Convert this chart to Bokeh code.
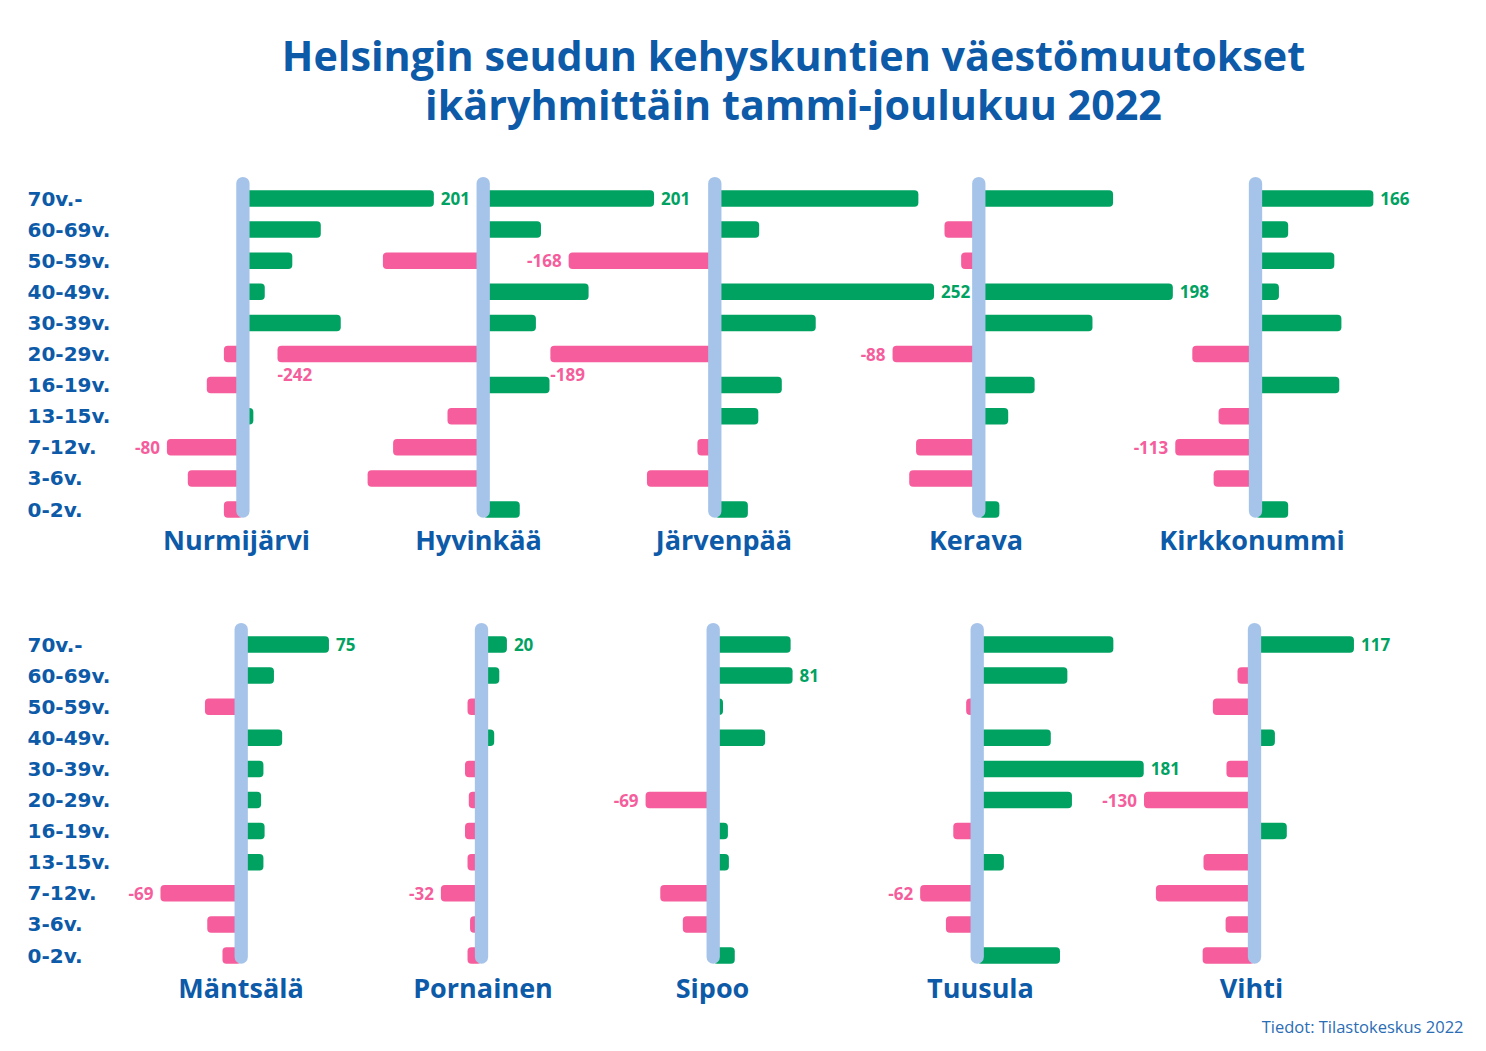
from bokeh.plotting import figure
from bokeh.models import Range1d, ColumnDataSource
from bokeh.embed import file_html
from bokeh.resources import INLINE
from bokeh.core.properties import value

# ---------------- data ----------------
TITLE = ["Helsingin seudun kehyskuntien väestömuutokset",
         "ikäryhmittäin tammi-joulukuu 2022"]
SOURCE_NOTE = "Tiedot: Tilastokeskus 2022"

AGE_GROUPS = ["70v.-", "60-69v.", "50-59v.", "40-49v.", "30-39v.", "20-29v.",
              "16-19v.", "13-15v.", "7-12v.", "3-6v.", "0-2v."]

ROW1 = ["Nurmijärvi", "Hyvinkää", "Järvenpää", "Kerava", "Kirkkonummi"]
ROW2 = ["Mäntsälä", "Pornainen", "Sipoo", "Tuusula", "Vihti"]

# population change per age group (same order as AGE_GROUPS)
nurmijarvi  = [201, 82, 52, 23, 103, -20, -38, 11, -80, -58, -20]
hyvinkaa    = [201, 68, -118, 124, 62, -242, 78, -42, -106, -136, 43]
jarvenpaa   = [234, 51, -168, 252, 116, -189, 77, 50, -20, -78, 38]
kerava      = [137, -35, -18, 198, 116, -88, 57, 30, -64, -71, 21]
kirkkonummi = [166, 46, 111, 33, 121, -89, 118, -52, -113, -59, 46]
mantsala    = [75, 28, -31, 35, 19, 17, 20, 19, -69, -29, -16]
pornainen   = [20, 14, -11, 10, -13, -10, -13, -11, -32, -9, -11]
sipoo       = [79, 81, 10, 53, 0, -69, 15, 16, -54, -31, 22]
tuusula     = [148, 98, -12, 80, 181, 103, -26, 29, -62, -34, 90]
vihti       = [117, -20, -49, 24, -33, -130, 38, -60, -116, -34, -61]

VALUES = {
    "Nurmijärvi": nurmijarvi, "Hyvinkää": hyvinkaa, "Järvenpää": jarvenpaa,
    "Kerava": kerava, "Kirkkonummi": kirkkonummi, "Mäntsälä": mantsala,
    "Pornainen": pornainen, "Sipoo": sipoo, "Tuusula": tuusula, "Vihti": vihti,
}

# which bars carry a value label
LABELED = {
    "Nurmijärvi": ["70v.-", "7-12v."],
    "Hyvinkää": ["70v.-", "20-29v."],
    "Järvenpää": ["50-59v.", "40-49v.", "20-29v."],
    "Kerava": ["40-49v.", "20-29v."],
    "Kirkkonummi": ["70v.-", "7-12v."],
    "Mäntsälä": ["70v.-", "7-12v."],
    "Pornainen": ["70v.-", "7-12v."],
    "Sipoo": ["60-69v.", "20-29v."],
    "Tuusula": ["30-39v.", "7-12v."],
    "Vihti": ["70v.-", "20-29v."],
}

# ---------------- layout / style ----------------
W, H = 1478, 1043
X0, X1 = 0, W
Y0, Y1 = 0, H

AXIS_X = {"Nurmijärvi": 242.4, "Hyvinkää": 482.7, "Järvenpää": 714.3,
          "Kerava": 978.3, "Kirkkonummi": 1255.0,
          "Mäntsälä": 240.7, "Pornainen": 481.0, "Sipoo": 712.7,
          "Tuusula": 976.7, "Vihti": 1254.0}
NAME_X = {"Nurmijärvi": 236, "Hyvinkää": 478, "Järvenpää": 723.5,
          "Kerava": 975.5, "Kirkkonummi": 1251.5,
          "Mäntsälä": 240.5, "Pornainen": 482.5, "Sipoo": 712,
          "Tuusula": 980, "Vihti": 1251}
SCALE = {"Nurmijärvi": 0.95, "Hyvinkää": 0.85, "Järvenpää": 0.87,
         "Kerava": 0.98, "Kirkkonummi": 0.71, "Mäntsälä": 1.17,
         "Pornainen": 1.27, "Sipoo": 0.98, "Tuusula": 0.92, "Vihti": 0.85}
ROW_TOP = [198.0, 644.0]
ROW_STEP = 31.1
NAME_Y = [539, 987]
TITLE_Y = [54, 103]
LABEL_BELOW = {("Hyvinkää", "20-29v."), ("Järvenpää", "20-29v.")}

BLUE = "#0C5AA8"
GREEN = "#00A262"
PINK = "#F55D9C"
AXIS_C = "#A6C4EA"
SRC_C = "#2A6DB5"

p = figure(width=W, height=H, output_backend="svg", toolbar_location=None,
           x_range=Range1d(X0, X1), y_range=Range1d(Y1, Y0),
           x_axis_location=None, y_axis_location=None, min_border=0)
p.outline_line_color = None
p.xgrid.visible = False
p.ygrid.visible = False
p.background_fill_color = "white"
p.border_fill_color = "white"

# row ranges: age index -> vertical position
for r, top in enumerate(ROW_TOP):
    p.extra_y_ranges[f"row{r}"] = Range1d((Y1 - top) / ROW_STEP, (Y0 - top) / ROW_STEP)

# title
p.text(x=[793] * 2, y=TITLE_Y, text=TITLE,
       text_font=value("Open Sans"), text_font_style="bold",
       text_font_size="41.3px", text_color=BLUE,
       text_align="center", text_baseline="middle")

# source
p.text(x=[1463], y=[1026], text=[SOURCE_NOTE], text_font=value("Open Sans"),
       text_font_size="16.5px", text_color=SRC_C,
       text_align="right", text_baseline="middle")

for r, names in enumerate([ROW1, ROW2]):
    yr = f"row{r}"
    idx = list(range(len(AGE_GROUPS)))
    # age group labels
    p.text(x=[27] * len(AGE_GROUPS), y=idx, text=AGE_GROUPS, y_range_name=yr,
           text_font=value("DejaVu Sans"), text_font_style="bold",
           text_font_size="20px", text_color=BLUE,
           text_align="left", text_baseline="middle")
    for name in names:
        c, k = AXIS_X[name], SCALE[name]
        p.extra_x_ranges[name] = Range1d((X0 - c) / k, (X1 - c) / k)
        vals = VALUES[name]
        src = ColumnDataSource(dict(
            y=idx,
            left=[min(v, 0) for v in vals],
            right=[max(v, 0) for v in vals],
            color=[GREEN if v >= 0 else PINK for v in vals],
        ))
        p.hbar(y="y", left="left", right="right", height=0.53,
               fill_color="color", line_color=None, border_radius=4,
               source=src, x_range_name=name, y_range_name=yr)
        # zero axis
        p.segment(x0=[0], y0=[-0.48], x1=[0], y1=[10.05],
                  line_color=AXIS_C, line_width=13.3, line_cap="round",
                  x_range_name=name, y_range_name=yr)
        # municipality name
        p.text(x=[NAME_X[name]], y=[NAME_Y[r]], text=[name],
               text_font=value("Open Sans"), text_font_style="bold",
               text_font_size="27px", text_color=BLUE,
               text_align="center", text_baseline="middle")
        # value labels
        for ag in LABELED[name]:
            i = AGE_GROUPS.index(ag)
            v = vals[i]
            col = GREEN if v >= 0 else PINK
            common = dict(text_font=value("Open Sans"), text_font_style="bold",
                          text_font_size="17px", text_color=col,
                          text_baseline="middle",
                          x_range_name=name, y_range_name=yr)
            if (name, ag) in LABEL_BELOW:
                p.text(x=[v], y=[i + 0.65], text=[str(v)], text_align="left", **common)
            elif v >= 0:
                p.text(x=[v], y=[i], text=[str(v)], x_offset=7, text_align="left", **common)
            else:
                p.text(x=[v], y=[i], text=[str(v)], x_offset=-7, text_align="right", **common)

open("out.html", "w").write(file_html(p, INLINE))
